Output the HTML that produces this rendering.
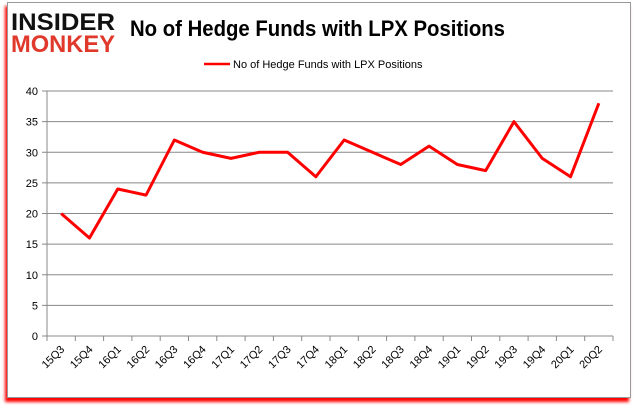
<!DOCTYPE html>
<html><head><meta charset="utf-8"><style>
body{margin:0;width:637px;height:408px;background:#fff;overflow:hidden;font-family:"Liberation Sans",sans-serif}
#frame{position:absolute;left:7px;top:2px;width:622px;height:394px;border:1px solid #999;background:#fff;box-shadow:-2px 4px 3px #f00}
</style></head><body>
<div id="frame"></div>
<svg width="637" height="408" style="position:absolute;left:0;top:0">
<g font-family="Liberation Sans, sans-serif" font-weight="bold">
<text x="11" y="30" font-size="24" fill="#111" textLength="104" lengthAdjust="spacingAndGlyphs">INSIDER</text>
<text x="11" y="52" font-size="24" fill="#e0392b" textLength="104" lengthAdjust="spacingAndGlyphs">MONKEY</text>
</g>
<text x="130" y="36" font-size="22" font-weight="bold" fill="#000" textLength="375" lengthAdjust="spacingAndGlyphs">No of Hedge Funds with LPX Positions</text>
<line x1="204" y1="64" x2="230" y2="64" stroke="#f00" stroke-width="2.5"/>
<text x="233" y="68" font-size="11" fill="#000">No of Hedge Funds with LPX Positions</text>
<g id="grid"></g><g id="axes"></g>
<path id="line" fill="none" stroke="#f00" stroke-width="3" stroke-linejoin="round"/>
</svg>
<script>
const categories=["15Q3","15Q4","16Q1","16Q2","16Q3","16Q4","17Q1","17Q2","17Q3","17Q4","18Q1","18Q2","18Q3","18Q4","19Q1","19Q2","19Q3","19Q4","20Q1","20Q2"];
const values=[20,16,24,23,32,30,29,30,30,26,32,30,28,31,28,27,35,29,26,38];
const yTicks=[0,5,10,15,20,25,30,35,40];
const X0=47,X1=613,Y0=336,Y1=91,YMAX=40;
const ns="http://www.w3.org/2000/svg";
const step=(X1-X0)/categories.length;
const x=i=>X0+step*(i+0.5);
const y=v=>Y0-(v/YMAX)*(Y0-Y1);
const grid=document.getElementById('grid'),axes=document.getElementById('axes');
function mk(t,a,p){const e=document.createElementNS(ns,t);for(const k in a)e.setAttribute(k,a[k]);p.appendChild(e);return e;}
yTicks.forEach(v=>{
 const g=mk('line',{x1:X0-5,x2:X1,y1:y(v),y2:y(v),stroke:'#888','stroke-width':1},grid);
 
 
 const t=mk('text',{x:X0-9,y:y(v)+4,'text-anchor':'end','font-size':11,fill:'#000'},axes);
 t.textContent=v;
 
 
});
const ax=mk('line',{x1:X0,x2:X0,y1:Y1,y2:Y0,stroke:'#888'},axes);


for(let i=0;i<=categories.length;i++){
 const tk=mk('line',{x1:X0+step*i,x2:X0+step*i,y1:Y0,y2:Y0+5,stroke:'#888'},axes);
 
 
}
categories.forEach((c,i)=>{
 const t=mk('text',{x:x(i)+4,y:Y0+14,'text-anchor':'end','font-size':11,fill:'#000',transform:`rotate(-45 ${x(i)+4} ${Y0+14})`},axes);
 t.textContent=c;
 
 
});
document.getElementById('line').setAttribute('d',values.map((v,i)=>(i?'L':'M')+x(i)+' '+y(v)).join(''));
</script>
</body></html>
